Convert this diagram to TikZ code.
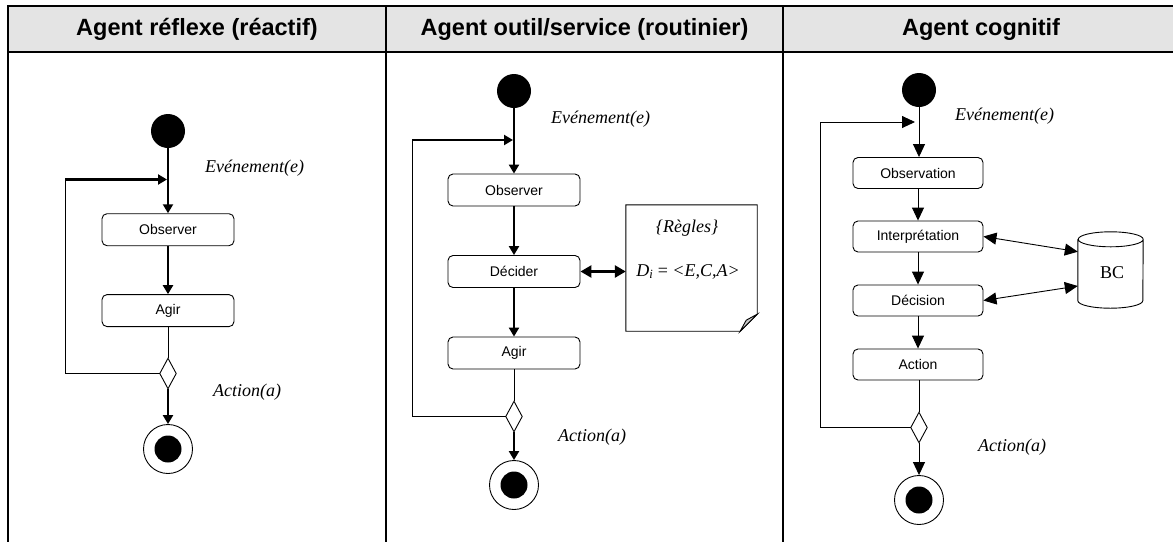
\documentclass[tikz,border=0pt]{standalone}
\usepackage{fontspec}
\setmainfont{Liberation Serif}
\newfontfamily\arial{Liberation Sans}
\usetikzlibrary{arrows.meta}
\definecolor{hdr}{HTML}{E4E4E4}
\definecolor{foldgray}{HTML}{C8C8C8}
\begin{document}
\begin{tikzpicture}[x=1pt,y=-1pt,
  act/.style={draw, rounded corners=5pt, line width=0.9pt, minimum width=132pt, minimum height=32pt, inner sep=0pt, font=\arial\fontsize{14}{16}\selectfont},
  actc/.style={act, minimum width=130pt, minimum height=31pt},
  startdot/.style={circle, fill=black, minimum size=34pt, inner sep=0pt},
  enddot/.style={circle, draw, line width=0.9pt, fill=white, minimum size=49pt, inner sep=0pt,
     path picture={\fill[black] (path picture bounding box.center) circle[radius=13.5pt];}},
  decbox/.style={rectangle, minimum width=16pt, minimum height=30pt, inner sep=0pt},
  lab/.style={font=\itshape\fontsize{18}{20}\selectfont, inner sep=0pt, anchor=west},
  hd/.style={font=\arial\bfseries\fontsize{23.5}{26}\selectfont, inner sep=0pt},
  flow/.style={line width=2.2pt, -{Triangle[length=9pt,width=10pt]}},
  flowc/.style={line width=0.9pt, -{Triangle[length=13pt,width=12pt]}},
  dflow/.style={line width=2.6pt, {Triangle[length=11pt,width=12pt]}-{Triangle[length=11pt,width=12pt]}},
  dflowc/.style={line width=0.9pt, {Triangle[length=13pt,width=12pt]}-{Triangle[length=13pt,width=12pt]}},
  thinl/.style={line width=0.9pt}
]
\useasboundingbox (0,0) rectangle (1173,542);
% table
\fill[hdr] (8,6) rectangle (1173,52);
\draw[line width=1.8pt] (1173,6) -- (8,6) -- (8,542);
\draw[line width=1.8pt] (8,52) -- (1173,52);
\draw[line width=1.8pt] (386,6) -- (386,542);
\draw[line width=1.8pt] (783,6) -- (783,542);
\node[hd] (h1) at (197,29) {Agent réflexe (réactif)};
\node[hd] (h2) at (584.5,29) {Agent outil/service (routinier)};
\node[hd] (h3) at (981,29) {Agent cognitif};

% ---------- column 1 ----------
\node[startdot] (s1) at (168,131) {};
\node[act] (o1) at (168,229.7) {Observer};
\node[act] (a1) at (168,310.6) {Agir};
\node[decbox] (d1) at (168,373.5) {};
\draw[thinl, fill=white] (d1.north) -- (d1.east) -- (d1.south) -- (d1.west) -- cycle;
\node[enddot] (e1) at (168,449) {};
\node[lab] (ev1) at (205,168) {Evénement(e)};
\node[lab] (ac1) at (213,392) {Action(a)};
\coordinate (l1a) at (65,373.5);
\coordinate (l1b) at (65,179.5);
\coordinate (j1) at (167,179.5);
\draw[flow] (s1) -- (o1);
\draw[flow] (o1) -- (a1);
\draw[thinl] (a1) -- (d1.north);
\draw[flow] (d1.south) -- (e1);
\draw[thinl] (d1.west) -- (l1a) -- (l1b);
\draw[flow] (l1b) -- (j1);

% ---------- column 2 ----------
\node[startdot] (s2) at (514,91) {};
\node[act] (o2) at (514,190) {Observer};
\node[act] (dc2) at (514,271.5) {Décider};
\node[act] (a2) at (514,353) {Agir};
\node[decbox] (d2) at (514,416.5) {};
\draw[thinl, fill=white] (d2.north) -- (d2.east) -- (d2.south) -- (d2.west) -- cycle;
\node[enddot] (e2) at (514,485) {};
\node[lab] (ev2) at (551,119) {Evénement(e)};
\node[lab] (ac2) at (558,437.6) {Action(a)};
\coordinate (l2a) at (412,416.5);
\coordinate (l2b) at (412,140);
\coordinate (j2) at (513,140);
\draw[flow] (s2) -- (o2);
\draw[flow] (o2) -- (dc2);
\draw[flow] (dc2) -- (a2);
\draw[thinl] (a2) -- (d2.north);
\draw[flow] (d2.south) -- (e2);
\draw[thinl] (d2.west) -- (l2a) -- (l2b);
\draw[flow] (l2b) -- (j2);
% note
\node[rectangle, minimum width=131pt, minimum height=126pt, inner sep=0pt] (note) at (691.5,268) {};
\draw[thinl, fill=white] (note.north west) -- (note.north east) -- ([yshift=17pt]note.south east)
   -- ([xshift=-17pt]note.south east) -- (note.south west) -- cycle;
\draw[thinl, fill=foldgray] ([yshift=17pt]note.south east) -- ([xshift=-17pt]note.south east)
   -- ([xshift=-11pt,yshift=11pt]note.south east) -- cycle;
\node[font=\itshape\fontsize{18}{20}\selectfont, inner sep=0pt] (rg) at (687,228) {\{Règles\}};
\node[font=\fontsize{18}{20}\selectfont, inner sep=0pt] (di) at (688,271.6) {\textit{D}\textsubscript{\textit{i}} = \textit{<E,C,A>}};
\draw[dflow] (dc2.east) -- (dc2.east -| note.west);

% ---------- column 3 ----------
\node[startdot] (s3) at (919,90) {};
\node[actc] (ob3) at (918,173) {Observation};
\node[actc] (in3) at (918,236.5) {Interprétation};
\node[actc] (de3) at (918,300.5) {Décision};
\node[actc] (ac3) at (918,364.5) {Action};
\node[decbox] (d3) at (919,427.5) {};
\draw[thinl, fill=white] (d3.north) -- (d3.east) -- (d3.south) -- (d3.west) -- cycle;
\node[enddot] (e3) at (919,500) {};
\node[lab] (ev3) at (955,116) {Evénement(e)};
\node[lab] (acl3) at (978,447) {Action(a)};
\coordinate (l3a) at (820,427.5);
\coordinate (l3b) at (820,122);
\coordinate (j3) at (915,122);
\draw[flowc] (s3) -- (s3 |- ob3.north);
\draw[flowc] (ob3) -- (in3);
\draw[flowc] (in3) -- (de3);
\draw[flowc] (de3) -- (ac3);
\draw[thinl] (ac3.south -| d3) -- (d3.north);
\draw[flowc] (d3.south) -- (e3);
\draw[thinl] (d3.west) -- (l3a) -- (l3b);
\draw[flowc] (l3b) -- (j3);
% cylinder
\node[rectangle, minimum width=65pt, minimum height=76pt, inner sep=0pt] (bc) at (1110.5,270) {};
\draw[thinl, fill=white] ([yshift=-7.5pt]bc.north west) -- ([yshift=7.5pt]bc.south west)
   arc[start angle=180, end angle=360, x radius=32.5pt, y radius=7.5pt]
   -- ([yshift=-7.5pt]bc.north east)
   arc[start angle=0, end angle=360, x radius=32.5pt, y radius=7.5pt];
\node[font=\fontsize{18}{20}\selectfont, inner sep=0pt] (bct) at (1112,273) {BC};
\draw[dflowc] (in3.east) -- ([yshift=18.3pt]bc.west);
\draw[dflowc] (de3.east) -- ([yshift=-16pt]bc.west);
\end{tikzpicture}
\end{document}
